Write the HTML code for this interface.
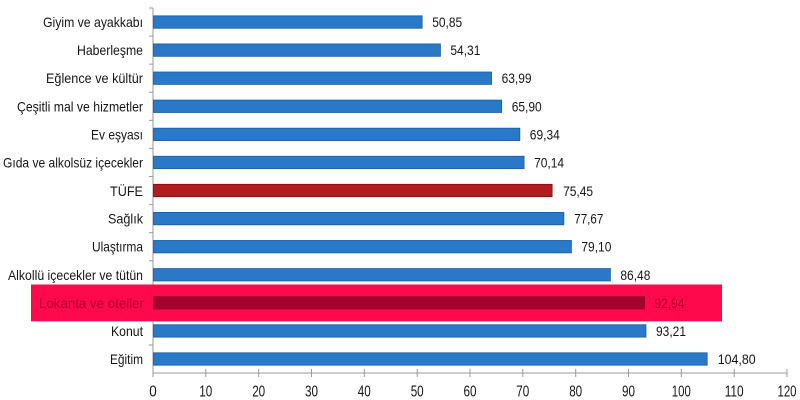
<!DOCTYPE html>
<html>
<head>
<meta charset="utf-8">
<style>
  html, body { margin: 0; padding: 0; background: #ffffff; }
  svg { display: block; }
  text { font-family: "Liberation Sans", "DejaVu Sans", sans-serif; fill: #161616; }
</style>
</head>
<body>
<svg width="800" height="400" viewBox="0 0 800 400" xmlns="http://www.w3.org/2000/svg">
  <rect x="0" y="0" width="800" height="400" fill="#ffffff"/>

  <!-- Y axis -->
  <line x1="153" y1="8" x2="153" y2="373" stroke="#9a9a9a" stroke-width="1"/>
  <g stroke="#9a9a9a" stroke-width="1">
    <line x1="149" y1="8" x2="153" y2="8"/>
    <line x1="149" y1="36.08" x2="153" y2="36.08"/>
    <line x1="149" y1="64.16" x2="153" y2="64.16"/>
    <line x1="149" y1="92.24" x2="153" y2="92.24"/>
    <line x1="149" y1="120.32" x2="153" y2="120.32"/>
    <line x1="149" y1="148.4" x2="153" y2="148.4"/>
    <line x1="149" y1="176.48" x2="153" y2="176.48"/>
    <line x1="149" y1="204.56" x2="153" y2="204.56"/>
    <line x1="149" y1="232.64" x2="153" y2="232.64"/>
    <line x1="149" y1="260.72" x2="153" y2="260.72"/>
    <line x1="149" y1="288.8" x2="153" y2="288.8"/>
    <line x1="149" y1="316.88" x2="153" y2="316.88"/>
    <line x1="149" y1="344.96" x2="153" y2="344.96"/>
  </g>

  <!-- X axis -->
  <line x1="153" y1="373" x2="787" y2="373" stroke="#9a9a9a" stroke-width="1"/>
  <g stroke="#9a9a9a" stroke-width="1">
    <line x1="153" y1="369" x2="153" y2="377"/>
    <line x1="205.8" y1="369" x2="205.8" y2="377"/>
    <line x1="258.7" y1="369" x2="258.7" y2="377"/>
    <line x1="311.5" y1="369" x2="311.5" y2="377"/>
    <line x1="364.3" y1="369" x2="364.3" y2="377"/>
    <line x1="417.2" y1="369" x2="417.2" y2="377"/>
    <line x1="470" y1="369" x2="470" y2="377"/>
    <line x1="522.8" y1="369" x2="522.8" y2="377"/>
    <line x1="575.7" y1="369" x2="575.7" y2="377"/>
    <line x1="628.5" y1="369" x2="628.5" y2="377"/>
    <line x1="681.3" y1="369" x2="681.3" y2="377"/>
    <line x1="734.2" y1="369" x2="734.2" y2="377"/>
    <line x1="787" y1="369" x2="787" y2="377"/>
  </g>
  <g font-size="15.5" text-anchor="middle">
    <text x="153" y="396.5" textLength="7.5" lengthAdjust="spacingAndGlyphs">0</text>
    <text x="205.8" y="396.5" textLength="13" lengthAdjust="spacingAndGlyphs">10</text>
    <text x="258.7" y="396.5" textLength="13" lengthAdjust="spacingAndGlyphs">20</text>
    <text x="311.5" y="396.5" textLength="13" lengthAdjust="spacingAndGlyphs">30</text>
    <text x="364.3" y="396.5" textLength="13" lengthAdjust="spacingAndGlyphs">40</text>
    <text x="417.2" y="396.5" textLength="13" lengthAdjust="spacingAndGlyphs">50</text>
    <text x="470" y="396.5" textLength="13" lengthAdjust="spacingAndGlyphs">60</text>
    <text x="522.8" y="396.5" textLength="13" lengthAdjust="spacingAndGlyphs">70</text>
    <text x="575.7" y="396.5" textLength="13" lengthAdjust="spacingAndGlyphs">80</text>
    <text x="628.5" y="396.5" textLength="13" lengthAdjust="spacingAndGlyphs">90</text>
    <text x="681.3" y="396.5" textLength="19" lengthAdjust="spacingAndGlyphs">100</text>
    <text x="734.2" y="396.5" textLength="19" lengthAdjust="spacingAndGlyphs">110</text>
    <text x="787" y="396.5" textLength="19" lengthAdjust="spacingAndGlyphs">120</text>
  </g>

  <!-- Blue bars -->
  <g fill="#2a78c8" stroke="#1d5c9f" stroke-width="0.8">
    <rect x="153.5" y="15.84" width="268.66" height="12.4"/>
    <rect x="153.5" y="43.92" width="286.94" height="12.4"/>
    <rect x="153.5" y="72.0" width="338.08" height="12.4"/>
    <rect x="153.5" y="100.08" width="348.17" height="12.4"/>
    <rect x="153.5" y="128.16" width="366.34" height="12.4"/>
    <rect x="153.5" y="156.24" width="370.57" height="12.4"/>
    <rect x="153.5" y="212.4" width="410.35" height="12.4"/>
    <rect x="153.5" y="240.48" width="417.91" height="12.4"/>
    <rect x="153.5" y="268.56" width="456.90" height="12.4"/>
    <rect x="153.5" y="324.72" width="492.45" height="12.4"/>
    <rect x="153.5" y="352.8" width="553.69" height="12.4"/>
  </g>
  <!-- TÜFE bar -->
  <rect x="153.5" y="184.32" width="398.62" height="12.4" fill="#b31b1e" stroke="#7c1012" stroke-width="0.8"/>

  <!-- Category labels -->
  <g font-size="14" text-anchor="end">
    <text x="143" y="27" textLength="100" lengthAdjust="spacingAndGlyphs">Giyim ve ayakkabı</text>
    <text x="143" y="55.1" textLength="66" lengthAdjust="spacingAndGlyphs">Haberleşme</text>
    <text x="143" y="83.2" textLength="97" lengthAdjust="spacingAndGlyphs">Eğlence ve kültür</text>
    <text x="143" y="111.3" textLength="126" lengthAdjust="spacingAndGlyphs">Çeşitli mal ve hizmetler</text>
    <text x="143" y="139.4" textLength="52" lengthAdjust="spacingAndGlyphs">Ev eşyası</text>
    <text x="143" y="167.5" textLength="140" lengthAdjust="spacingAndGlyphs">Gıda ve alkolsüz içecekler</text>
    <text x="143" y="196" textLength="33" lengthAdjust="spacingAndGlyphs">TÜFE</text>
    <text x="143" y="223.6" textLength="35" lengthAdjust="spacingAndGlyphs">Sağlık</text>
    <text x="143" y="251.7" textLength="51" lengthAdjust="spacingAndGlyphs">Ulaştırma</text>
    <text x="143" y="279.8" textLength="135" lengthAdjust="spacingAndGlyphs">Alkollü içecekler ve tütün</text>
    <text x="143" y="336" textLength="32" lengthAdjust="spacingAndGlyphs">Konut</text>
    <text x="143" y="364" textLength="33" lengthAdjust="spacingAndGlyphs">Eğitim</text>
  </g>

  <!-- Value labels -->
  <g font-size="13.5">
    <text x="432.2" y="27" textLength="30" lengthAdjust="spacingAndGlyphs">50,85</text>
    <text x="450.4" y="55.1" textLength="30" lengthAdjust="spacingAndGlyphs">54,31</text>
    <text x="501.6" y="83.2" textLength="30" lengthAdjust="spacingAndGlyphs">63,99</text>
    <text x="511.7" y="111.3" textLength="30" lengthAdjust="spacingAndGlyphs">65,90</text>
    <text x="529.8" y="139.4" textLength="30" lengthAdjust="spacingAndGlyphs">69,34</text>
    <text x="534.1" y="167.5" textLength="30" lengthAdjust="spacingAndGlyphs">70,14</text>
    <text x="563.1" y="196" textLength="30" lengthAdjust="spacingAndGlyphs">75,45</text>
    <text x="574.3" y="223.6" textLength="29" lengthAdjust="spacingAndGlyphs">77,67</text>
    <text x="581.4" y="251.7" textLength="30" lengthAdjust="spacingAndGlyphs">79,10</text>
    <text x="620.4" y="279.8" textLength="30" lengthAdjust="spacingAndGlyphs">86,48</text>
    <text x="656.0" y="336" textLength="30" lengthAdjust="spacingAndGlyphs">93,21</text>
    <text x="717.7" y="364" textLength="38" lengthAdjust="spacingAndGlyphs">104,80</text>
  </g>

  <!-- Highlight -->
  <rect x="31" y="284.5" width="691" height="36.8" fill="#fe0a4c"/>
  <rect x="153.5" y="296.64" width="491.03" height="12.4" fill="#a6002e" stroke="#8c0026" stroke-width="0.6"/>
  <text x="144" y="308" font-size="14" text-anchor="end" textLength="105" lengthAdjust="spacingAndGlyphs" style="fill:#b0002c">Lokanta ve oteller</text>
  <text x="654.5" y="308" font-size="13.5" textLength="30" lengthAdjust="spacingAndGlyphs" style="fill:#b0002c">92,94</text>
</svg>
</body>
</html>
